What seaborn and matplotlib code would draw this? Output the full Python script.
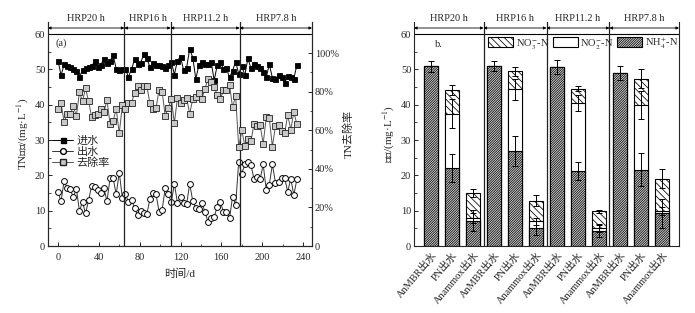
import matplotlib
matplotlib.use('Agg')
import matplotlib.pyplot as plt
import seaborn as sns
import pandas as pd
from matplotlib.ticker import MultipleLocator, FuncFormatter
from matplotlib.lines import Line2D
from matplotlib.patches import Patch

# ---------------- data: panel (a) ----------------
days = [0, 3, 6, 9, 12, 15, 18, 21, 24, 27, 30, 33, 36, 39, 42, 45, 48, 51, 54, 57, 60, 63,
        66, 69, 72, 75, 78, 81, 84, 87, 90, 93, 96, 99, 102, 105, 108,
        111, 114, 117, 120, 123, 126, 129, 132, 135, 138, 141, 144, 147, 150, 153, 156, 159, 162,
        165, 168, 171, 174, 177,
        180, 183, 186, 189, 192, 195, 198, 201, 204, 207, 210, 213, 216, 219, 222, 225, 228, 231, 234]
influent = [52.5, 48.3, 51.4, 51.0, 50.6, 50.1, 49.5, 47.7, 49.9, 50.3, 50.6, 50.9, 52.3, 50.6, 51.3,
            53.0, 51.8, 52.3, 54.0, 50.2, 49.9, 50.1,
            50.1, 47.9, 50.0, 52.8, 51.6, 51.9, 54.3, 53.1, 50.7, 51.8, 51.2, 51.2, 51.0, 50.3, 51.2,
            52.2, 48.5, 52.5, 53.6, 49.8, 50.5, 55.8, 53.3, 47.3, 51.2, 52.2, 51.4, 51.4, 52.1, 46.9,
            51.2, 52.2, 50.0, 50.3, 47.7, 49.6, 52.2, 48.7,
            51.0, 48.3, 53.1, 50.3, 51.5, 51.0, 50.5, 49.3, 47.8, 51.4, 47.6, 47.3, 48.5, 47.7, 46.2,
            48.0, 47.9, 47.4, 51.2]
effluent = [15.2, 12.7, 18.5, 16.3, 16.0, 13.8, 16.2, 9.9, 12.5, 9.2, 13.0, 17.1, 16.8, 15.8, 14.9,
            16.3, 12.7, 19.2, 19.2, 14.6, 20.8, 13.7,
            14.6, 12.5, 13.0, 10.8, 8.7, 10.0, 9.4, 9.0, 13.2, 14.9, 14.7, 9.7, 10.2, 16.4, 14.6,
            12.5, 17.6, 12.2, 13.8, 12.2, 11.8, 17.6, 12.7, 10.8, 10.6, 12.3, 9.5, 6.8, 7.8, 8.3,
            11.1, 12.5, 9.7, 9.5, 7.8, 14.0, 11.6, 23.8,
            20.4, 23.2, 23.7, 23.0, 18.9, 19.4, 18.9, 23.1, 15.8, 17.4, 23.1, 17.9, 18.2, 19.2, 19.2,
            15.4, 19.0, 14.5, 18.9]
removal = [71.0, 73.9, 64.2, 68.2, 68.2, 72.5, 67.4, 79.6, 75.1, 81.7, 74.9, 66.7, 68.0, 68.4, 71.2,
           69.4, 75.6, 63.2, 64.9, 71.0, 58.4, 72.9,
           70.9, 73.9, 74.0, 79.5, 83.1, 80.7, 82.7, 83.1, 74.0, 71.2, 71.3, 81.1, 80.0, 67.4, 71.5,
           76.1, 63.7, 76.8, 74.3, 75.5, 76.6, 68.5, 76.2, 77.2, 79.3, 76.4, 81.5, 86.8, 85.0, 82.3,
           78.3, 76.1, 80.6, 81.1, 83.6, 71.8, 77.8, 51.1,
           60.0, 52.0, 55.4, 54.3, 63.3, 62.0, 62.6, 53.1, 66.9, 66.1, 51.5, 62.2, 62.5, 59.7, 58.4,
           67.9, 60.3, 69.4, 63.1]
phase_names = ['HRP20 h', 'HRP16 h', 'HRP11.2 h', 'HRP7.8 h']
phase_bounds = [65, 110.4, 178]

# ---------------- data: panel (b) ----------------
sample_names = ['AnMBR出水', 'PN出水', 'Anammox出水'] * 4
nh4 = [50.9, 22.0, 7.2, 50.9, 26.8, 5.2, 50.7, 21.3, 4.3, 49.0, 21.6, 9.2]
nh4_err = [1.6, 4.0, 3.0, 1.4, 4.2, 2.0, 2.0, 2.5, 1.8, 2.0, 4.7, 4.0]
no2_top = [50.9, 37.5, 7.9, 50.9, 44.4, 7.0, 50.7, 40.5, 5.0, 49.0, 39.9, 9.9]
no2_err = [0, 4.0, 1.5, 0, 3.0, 1.0, 0, 2.3, 1.0, 0, 4.0, 1.0]
no3_top = [50.9, 44.2, 15.0, 50.9, 49.4, 12.8, 50.7, 44.5, 9.8, 49.0, 47.4, 19.1]
no3_err = [0, 1.5, 1.0, 0, 1.2, 1.6, 0, 0.7, 0.5, 0, 2.8, 2.8]

# ---------------- style ----------------
sns.set_style('ticks')
plt.rcParams['font.family'] = ['Liberation Serif', 'Noto Sans CJK SC']
plt.rcParams['mathtext.fontset'] = 'stix'
plt.rcParams['axes.linewidth'] = 0.8
plt.rcParams['xtick.direction'] = 'in'
plt.rcParams['ytick.direction'] = 'in'
plt.rcParams['hatch.linewidth'] = 0.55
plt.rcParams['hatch.color'] = 'black'
FS = 7.5
NH4_HATCH = '/' * 14
NO3_HATCH = '\\' * 5
NH4_FACE = '#d9d9d9'

fig = plt.figure(figsize=(6.95, 3.13), dpi=100)
YTOP = 63.4

def header(ax, edges):
    for (x0, x1), name in zip(zip(edges[:-1], edges[1:]), phase_names):
        ax.annotate('', xy=(x0, 61.7), xytext=(x1, 61.7), xycoords='data',
                    arrowprops=dict(arrowstyle='<|-|>', color='k', lw=0.6,
                                    mutation_scale=4, shrinkA=0, shrinkB=0),
                    annotation_clip=False)
        ax.text((x0 + x1) / 2, 64.3, name, ha='center', va='center', fontsize=FS,
                clip_on=False)
    ax.axhline(60, color='k', lw=0.8)
    for b in edges[1:-1]:
        ax.axvline(b, color='#222222', lw=0.9)

# ---------------- panel (a) ----------------
ax = fig.add_axes([48 / 695, 1 - 246 / 313, 264 / 695, 224 / 313])
XL = (-9.8, 248.8)
ax.set_xlim(*XL)
ax.set_ylim(0, YTOP)
sns.lineplot(x=days, y=influent, ax=ax, color='black', lw=0.7, marker='s',
             markersize=3.6, markerfacecolor='black', markeredgecolor='black', markeredgewidth=0.6)
sns.lineplot(x=days, y=effluent, ax=ax, color='#333333', lw=0.7, marker='o',
             markersize=4.2, markerfacecolor='white', markeredgecolor='black', markeredgewidth=0.7)
ax2 = ax.twinx()
ax2.set_ylim(0, 116.1)
sns.lineplot(x=days, y=removal, ax=ax2, color='#555555', lw=0.7, marker='s',
             markersize=3.8, markerfacecolor='#c8c8c8', markeredgecolor='#222222', markeredgewidth=0.6)
sns.scatterplot(x=days, y=removal, ax=ax2, marker='x', s=4, color='#222222', linewidth=0.5)
ax.spines['top'].set_visible(False)
ax2.spines['top'].set_visible(False)
header(ax, [XL[0]] + phase_bounds + [XL[1]])

ax.xaxis.set_major_locator(MultipleLocator(40))
ax.xaxis.set_minor_locator(MultipleLocator(20))
ax.yaxis.set_major_locator(MultipleLocator(10))
ax.yaxis.set_minor_locator(MultipleLocator(5))
ax.set_yticks([0, 10, 20, 30, 40, 50, 60])
ax2.set_yticks([0, 20, 40, 60, 80, 100])
ax2.yaxis.set_minor_locator(MultipleLocator(10))
ax2.yaxis.set_major_formatter(FuncFormatter(lambda v, p: '0' if v == 0 else f'{v:.0f}%'))
for a in (ax, ax2):
    a.tick_params(which='major', length=3, width=0.7, labelsize=FS, pad=2)
    a.tick_params(which='minor', length=1.8, width=0.6)
ax.tick_params(axis='x', pad=5)
ax.set_xlabel('时间/d', fontsize=8, labelpad=5)
ax.set_ylabel('TN浓度/(mg·L$^{-1}$)', fontsize=8, labelpad=3)
ax2.set_ylabel('TN去除率', fontsize=8, labelpad=3)
ax.text(0.03, 0.905, '(a)', transform=ax.transAxes, fontsize=FS, ha='left', va='center')

handles = [
    Line2D([], [], color='black', lw=0.7, marker='s', markersize=3.6, markerfacecolor='black',
           markeredgecolor='black'),
    Line2D([], [], color='#333333', lw=0.7, marker='o', markersize=4.2, markerfacecolor='white',
           markeredgecolor='black'),
    Line2D([], [], color='#555555', lw=0.7, marker='s', markersize=3.8, markerfacecolor='#c8c8c8',
           markeredgecolor='#222222'),
]
ax2.legend(handles, ['进水', '出水', '去除率'], loc='upper left', bbox_to_anchor=(0.015, 0.49),
           frameon=False, fontsize=8, handlelength=1.9, handletextpad=0.3, labelspacing=0.05,
           borderpad=0, borderaxespad=0)

# ---------------- panel (b) ----------------
bx = fig.add_axes([414 / 695, 1 - 246 / 313, 265 / 695, 224 / 313])
ids = [f'{n}_{i}' for i, n in enumerate(sample_names)]
df = pd.DataFrame({'id': ids, 'name': sample_names, 'nh4': nh4, 'no2': no2_top, 'no3': no3_top})
common = dict(order=ids, width=0.7, edgecolor='black', linewidth=0.8, errorbar=None, ax=bx,
              saturation=1)
sns.barplot(data=df, x='id', y='no3', color='white', hatch=NO3_HATCH, **common)
sns.barplot(data=df, x='id', y='no2', color='white', **common)
sns.barplot(data=df, x='id', y='nh4', color=NH4_FACE, hatch=NH4_HATCH, **common)
pos = list(range(len(ids)))
ekw = dict(fmt='none', ecolor='black', elinewidth=0.7, capsize=2.2, capthick=0.7, zorder=6)
bx.errorbar(pos, nh4, yerr=nh4_err, **ekw)
sel = [i for i in pos if no2_err[i] > 0]
bx.errorbar(sel, [no2_top[i] for i in sel], yerr=[no2_err[i] for i in sel], **ekw)
sel = [i for i in pos if no3_err[i] > 0]
bx.errorbar(sel, [no3_top[i] for i in sel], yerr=[no3_err[i] for i in sel], **ekw)

BXL = (-0.81, 11.81)
bx.set_xlim(*BXL)
bx.set_ylim(0, YTOP)
bx.spines['top'].set_visible(False)
header(bx, [BXL[0], 2.5, 5.5, 8.5, BXL[1]])
bx.set_yticks([0, 10, 20, 30, 40, 50, 60])
bx.yaxis.set_minor_locator(MultipleLocator(5))
bx.set_xticks(pos)
bx.set_xticklabels(sample_names, rotation=50, ha='right', rotation_mode='anchor', fontsize=FS)
bx.tick_params(which='major', length=3, width=0.7, labelsize=FS, pad=2)
bx.tick_params(axis='x', length=0, pad=3)
bx.tick_params(which='minor', length=1.8, width=0.6)
bx.tick_params(axis='y', right=False)
bx.set_xlabel('')
bx.set_ylabel('浓度/(mg·L$^{-1}$)', fontsize=8, labelpad=3)
bx.text(0.19, 56.9, 'b.', fontsize=FS, ha='left', va='center')

leg_handles = [Patch(facecolor='white', edgecolor='black', hatch=NO3_HATCH, lw=0.8),
               Patch(facecolor='white', edgecolor='black', lw=0.8),
               Patch(facecolor=NH4_FACE, edgecolor='black', hatch=NH4_HATCH, lw=0.8)]
bx.legend(leg_handles, [r'NO$_3^{-}$-N', r'NO$_2^{-}$-N', r'NH$_4^{+}$-N'], ncol=3,
          loc='upper right', bbox_to_anchor=(0.997, 0.94), frameon=False, fontsize=FS,
          handlelength=2.4, handleheight=1.0, handletextpad=0.25, columnspacing=0.35,
          borderpad=0, borderaxespad=0)

fig.savefig('out.png', dpi=100)
